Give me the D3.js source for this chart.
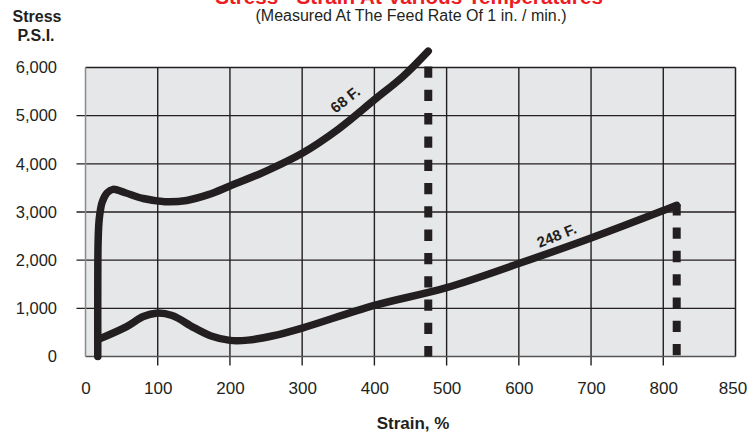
<!DOCTYPE html>
<html><head><meta charset="utf-8">
<script src="https://cdn.jsdelivr.net/npm/d3@7"></script>
<style>html,body{margin:0;padding:0;background:#fff;}svg{display:block;font-family:"Liberation Sans",Arial,sans-serif;}</style>
</head><body>
<script>
// Data
const title = "Stress - Strain At Various Temperatures";
const subtitle = "(Measured At The Feed Rate Of 1 in. / min.)";
const xTickValues = [0,100,200,300,400,500,600,700,800,900];
const xTickLabels = ["0","100","200","300","400","500","600","700","800","850"];
const yTickValues = [0,1000,2000,3000,4000,5000,6000];
const curve68 = [[17,0],[17,1500],[17.5,2400],[19,2850],[23,3200],[30,3400],[38,3470],[55,3400],[80,3280],[110,3215],[140,3240],[170,3360],[200,3540],[250,3850],[300,4220],[350,4720],[400,5330],[440,5820],[474.6,6340]];
const curve248 = [[17,350],[57,620],[80,830],[98,900],[120,850],[150,600],[175,420],[200,335],[225,340],[260,430],[300,590],[400,1060],[500,1430],[600,1930],[700,2460],[800,3030],[818.6,3140]];
const breakLines = [[474.6,6000],[818.6,3140]];
const curveLabels = [{text:"68 F.", x:364, y:5250, angle:-38},{text:"248 F.", x:655, y:2410, angle:-22}];

const W=748,H=433;
const svg=d3.select("body").append("svg").attr("width",W).attr("height",H);
const x=d3.scaleLinear().domain([0,900]).range([85.5,735.5]);
const y=d3.scaleLinear().domain([0,6000]).range([356.5,67.5]);
const ink="#231f20";
const font="Liberation Sans, Arial, sans-serif";

// background
svg.append("rect").attr("x",x(0)).attr("y",y(6000)).attr("width",x(900)-x(0)).attr("height",y(0)-y(6000)).attr("fill","#e6e7e8");

// gridlines
svg.append("g").selectAll("line").data(xTickValues.filter(v=>v>0&&v<900)).join("line")
 .attr("x1",d=>x(d)).attr("x2",d=>x(d)).attr("y1",y(6000)).attr("y2",y(0)+9)
 .attr("stroke",ink).attr("stroke-width",1.4);
svg.append("g").selectAll("line").data(yTickValues.filter(v=>v>0&&v<6000)).join("line")
 .attr("x1",x(0)-9).attr("x2",x(900)).attr("y1",d=>y(d)).attr("y2",d=>y(d))
 .attr("stroke",ink).attr("stroke-width",1.4);

// frame
svg.append("line").attr("x1",x(0)).attr("x2",x(900)).attr("y1",y(6000)).attr("y2",y(6000)).attr("stroke",ink).attr("stroke-width",1.5);
svg.append("line").attr("x1",x(900)).attr("x2",x(900)).attr("y1",y(6000)).attr("y2",y(0)).attr("stroke",ink).attr("stroke-width",1.5);
svg.append("line").attr("x1",x(0)).attr("x2",x(900)).attr("y1",y(0)).attr("y2",y(0)).attr("stroke","#555").attr("stroke-width",1.5);
svg.append("line").attr("x1",x(0)).attr("x2",x(0)).attr("y1",y(6000)).attr("y2",y(0)).attr("stroke","#8a8a8a").attr("stroke-width",1.5);

// axes labels
const xAxis=d3.axisBottom(x).tickValues(xTickValues).tickFormat((d,i)=>xTickLabels[i]).tickSize(0).tickPadding(0);
const gx=svg.append("g").attr("transform",`translate(0,${y(0)+25.5})`).call(xAxis);
gx.select(".domain").remove();
gx.selectAll("text").attr("font-size",17).attr("fill",ink).attr("font-family",font)
  .attr("dx",d=>d===900?-3:0);
const yAxis=d3.axisLeft(y).tickValues(yTickValues).tickFormat(d3.format(",")).tickSize(0).tickPadding(0);
const gy=svg.append("g").attr("transform",`translate(57,0)`).call(yAxis);
gy.select(".domain").remove();
gy.selectAll("text").attr("font-size",16.5).attr("fill",ink).attr("font-family",font);

// break (dotted) lines
svg.append("g").selectAll("line").data(breakLines).join("line")
 .attr("x1",d=>x(d[0])).attr("x2",d=>x(d[0])).attr("y1",d=>y(d[1])-1).attr("y2",y(0))
 .attr("stroke",ink).attr("stroke-width",8).attr("stroke-dasharray","11.3 12");

// curves
const line=d3.line().x(d=>x(d[0])).y(d=>y(d[1])).curve(d3.curveCatmullRom.alpha(0.5));
[curve68,curve248].forEach(c=>{
 svg.append("path").attr("d",line(c)).attr("fill","none").attr("stroke",ink).attr("stroke-width",7.5)
  .attr("stroke-linecap","round").attr("stroke-linejoin","round");
});

// curve labels
svg.append("g").selectAll("text").data(curveLabels).join("text")
 .attr("transform",d=>`translate(${x(d.x)},${y(d.y)}) rotate(${d.angle})`)
 .attr("text-anchor","middle").attr("font-size",15).attr("font-weight","bold").attr("fill",ink)
 .text(d=>d.text);

// titles
const t=svg.append("text").attr("x",409).attr("y",4).attr("text-anchor","middle").attr("font-size",17.5).attr("font-weight","bold").attr("fill","#ed1c24").text(title);
const tl=t.node().getComputedTextLength();
if(tl>0) t.attr("font-size",17.5*388/tl);
svg.append("text").attr("x",411).attr("y",20.5).attr("text-anchor","middle").attr("font-size",16).attr("fill",ink).text(subtitle);
svg.append("text").attr("x",37).attr("y",22).attr("text-anchor","middle").attr("font-size",16).attr("font-weight","bold").attr("fill",ink).text("Stress");
svg.append("text").attr("x",36).attr("y",41).attr("text-anchor","middle").attr("font-size",16).attr("font-weight","bold").attr("fill",ink).text("P.S.I.");
svg.append("text").attr("x",413).attr("y",429).attr("text-anchor","middle").attr("font-size",17).attr("font-weight","bold").attr("fill",ink).text("Strain, %");
</script>
</body></html>
